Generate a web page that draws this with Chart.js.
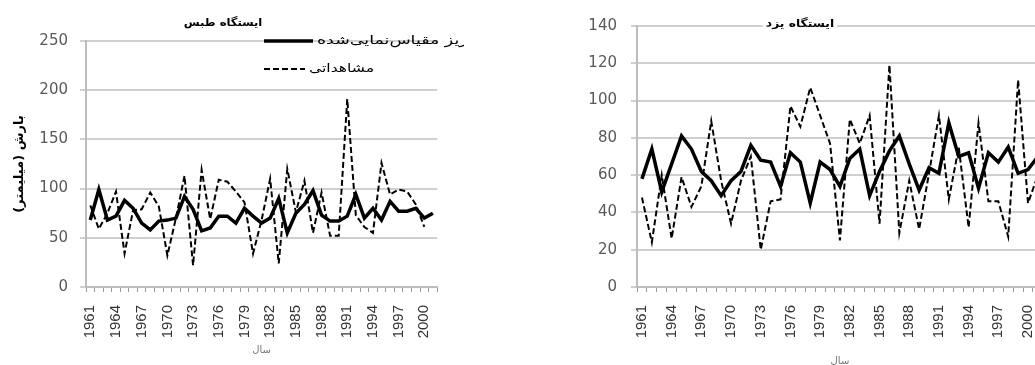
<!DOCTYPE html>
<html>
<head>
<meta charset="utf-8">
<script src="https://cdn.jsdelivr.net/npm/chart.js@4.4.1/dist/chart.umd.min.js"></script>
<style>
  html, body { margin: 0; padding: 0; background: #fff; }
  #wrap { width: 1035px; height: 365px; overflow: hidden; background: #fff; display: flex; align-items: flex-start; }
  #wrap canvas { display: block; flex-shrink: 0; }
  #yazd { margin-left: 96px; }
</style>
</head>
<body>
<div id="wrap">
  <canvas id="tabas" width="464" height="365"></canvas>
  <canvas id="yazd" width="509" height="370"></canvas>
</div>
<script>
// Years on the horizontal axis
const years = [1961,1962,1963,1964,1965,1966,1967,1968,1969,1970,
               1971,1972,1973,1974,1975,1976,1977,1978,1979,1980,
               1981,1982,1983,1984,1985,1986,1987,1988,1989,1990,
               1991,1992,1993,1994,1995,1996,1997,1998,1999,2000,2001];

// Series labels
const downscaledLabel = 'ریز مقیاس‌نمایی‌شده';
const observedLabel = 'مشاهداتی';

// Tabas station: annual precipitation (mm)
const tabasDownscaled = [68,99,68,72,88,80,65,58,67,68,
                         70,92,79,57,60,72,72,65,80,72,
                         65,70,90,55,75,84,98,73,67,67,
                         72,94,70,80,68,87,77,77,80,70,75];
const tabasObserved   = [83,59,75,97,34,78,79,96,82,32,
                         70,113,22,119,69,109,107,97,86,34,
                         68,110,24,120,76,108,55,96,52,52,
                         191,73,61,55,126,94,99,97,84,61];

// Yazd station: annual precipitation (mm)
const yazdDownscaled = [58,74,51,66,81,74,62,57,49,57,
                        62,76,68,67,54,72,67,45,67,63,
                        54,69,74,49,62,73,81,66,52,64,
                        61,88,70,72,53,72,67,75,61,63,70];
const yazdObserved   = [48,24,60,26,59,43,54,89,57,34,
                        57,70,20,46,47,97,86,107,92,77,
                        25,90,77,92,34,119,29,57,31,61,
                        92,47,75,32,88,46,46,27,111,45,60];

// Axis ranges
const tabasAxis = { max: 250, step: 50 };
const yazdAxis  = { max: 140, step: 20 };

const persianFont = '"DejaVu Sans", "Noto Sans", sans-serif';

// Station name drawn on a white patch near the top of the plot
const stationTitle = {
  id: 'stationTitle',
  afterDraw(chart, args, opts) {
    if (!opts.text) return;
    const { ctx, chartArea } = chart;
    ctx.save();
    ctx.font = `bold ${opts.size}px ${persianFont}`;
    const w = ctx.measureText(opts.text).width * opts.stretch;
    const cx = chartArea.left + opts.dx;
    const cy = chartArea.top + opts.dy;
    ctx.fillStyle = '#fff';
    ctx.fillRect(cx - w / 2 - 3, cy - opts.size / 2 - 2, w + 6, opts.size + 4);
    ctx.translate(cx, cy);
    ctx.scale(opts.stretch, 1);
    ctx.fillStyle = '#000';
    ctx.textAlign = 'center';
    ctx.textBaseline = 'middle';
    ctx.fillText(opts.text, 0, 0);
    ctx.restore();
  }
};

// Line-sample key placed inside the plot area
const lineKey = {
  id: 'lineKey',
  afterDraw(chart, args, opts) {
    if (!opts.display) return;
    const { ctx, chartArea } = chart;
    chart.data.datasets.forEach((ds, i) => {
      const x = chartArea.left + opts.dx;
      const y = chartArea.top + opts.dy + i * opts.rowGap;
      const len = opts.lineLen[i];
      ctx.save();
      ctx.strokeStyle = ds.borderColor;
      ctx.lineWidth = ds.borderWidth;
      ctx.setLineDash(ds.borderDash || []);
      ctx.beginPath();
      ctx.moveTo(x, y);
      ctx.lineTo(x + len, y);
      ctx.stroke();
      ctx.setLineDash([]);
      ctx.translate(x + len + opts.gap, y);
      ctx.scale(opts.stretch[i], 1);
      ctx.fillStyle = '#000';
      ctx.font = `${opts.size}px ${persianFont}`;
      ctx.textAlign = 'left';
      ctx.textBaseline = 'middle';
      ctx.fillText(ds.label, 0, 0);
      ctx.restore();
    });
  }
};

function buildChart(canvasId, cfg) {
  return new Chart(document.getElementById(canvasId), {
    type: 'line',
    data: {
      labels: years,
      datasets: [
        {
          label: downscaledLabel,
          data: cfg.downscaled,
          borderColor: '#000',
          borderWidth: 3.5,
          pointRadius: 0,
          tension: 0,
          fill: false
        },
        {
          label: observedLabel,
          data: cfg.observed,
          borderColor: '#000',
          borderWidth: 2,
          borderDash: [6, 3],
          pointRadius: 0,
          tension: 0,
          fill: false
        }
      ]
    },
    options: {
      responsive: false,
      animation: false,
      layout: { padding: cfg.padding },
      plugins: {
        legend: { display: false },
        tooltip: { enabled: false },
        stationTitle: cfg.title,
        lineKey: cfg.key
      },
      scales: {
        x: {
          type: 'category',
          offset: true,
          grid: {
            display: true,
            drawOnChartArea: false,
            drawTicks: true,
            tickLength: 5,
            offset: true,
            color: '#9a9a9a',
            lineWidth: 1
          },
          border: { display: true, color: '#bdbdbd', width: 2 },
          ticks: {
            autoSkip: false,
            maxRotation: 90,
            minRotation: 90,
            padding: 13,
            color: '#333',
            font: { family: '"Liberation Sans", Arial, sans-serif', size: 15 },
            callback(value, index) {
              return index % 3 === 0 ? this.getLabelForValue(value) : '';
            }
          },
          title: {
            display: true,
            text: 'سال',
            color: '#777',
            font: { family: persianFont, size: 10 },
            padding: { top: 0, bottom: cfg.xTitlePad }
          },
          afterFit(scale) { scale.height = cfg.xAxisHeight; }
        },
        y: {
          min: 0,
          max: cfg.axis.max,
          grid: {
            color: '#cfcfcf',
            lineWidth: 2,
            drawTicks: true,
            tickLength: 6
          },
          border: { display: true, color: '#bdbdbd', width: 2 },
          ticks: {
            stepSize: cfg.axis.step,
            padding: cfg.yTickPad,
            color: '#595959',
            font: { family: '"DejaVu Sans", sans-serif', size: 15 }
          },
          title: cfg.yTitle,
          afterFit(scale) { scale.width = cfg.yAxisWidth; }
        }
      }
    },
    plugins: [stationTitle, lineKey]
  });
}

buildChart('tabas', {
  downscaled: tabasDownscaled,
  observed: tabasObserved,
  axis: tabasAxis,
  padding: { top: 41, right: 8, bottom: 0, left: 0 },
  yAxisWidth: 86,
  yTickPad: 12,
  xAxisHeight: 78,
  xTitlePad: 9,
  yTitle: {
    display: true,
    text: 'بارش (میلیمتر)',
    color: '#000',
    font: { family: persianFont, size: 13, weight: 'bold' },
    padding: { top: 12, bottom: 0 }
  },
  title: { text: 'ایستگاه طبس', size: 11, stretch: 1.05, dx: 137, dy: -18 },
  key: { display: true, dx: 178, dy: 0, rowGap: 28, lineLen: [49, 41], gap: 4, size: 12, stretch: [1.45, 1.3] }
});

buildChart('yazd', {
  downscaled: yazdDownscaled,
  observed: yazdObserved,
  axis: yazdAxis,
  padding: { top: 26, right: 7, bottom: 0, left: 0 },
  yAxisWidth: 77,
  yTickPad: 14,
  xAxisHeight: 83,
  xTitlePad: 3,
  yTitle: { display: false },
  title: { text: 'ایستگاه یزد', size: 11, stretch: 1.12, dx: 163, dy: -2 },
  key: { display: false }
});
</script>
</body>
</html>
